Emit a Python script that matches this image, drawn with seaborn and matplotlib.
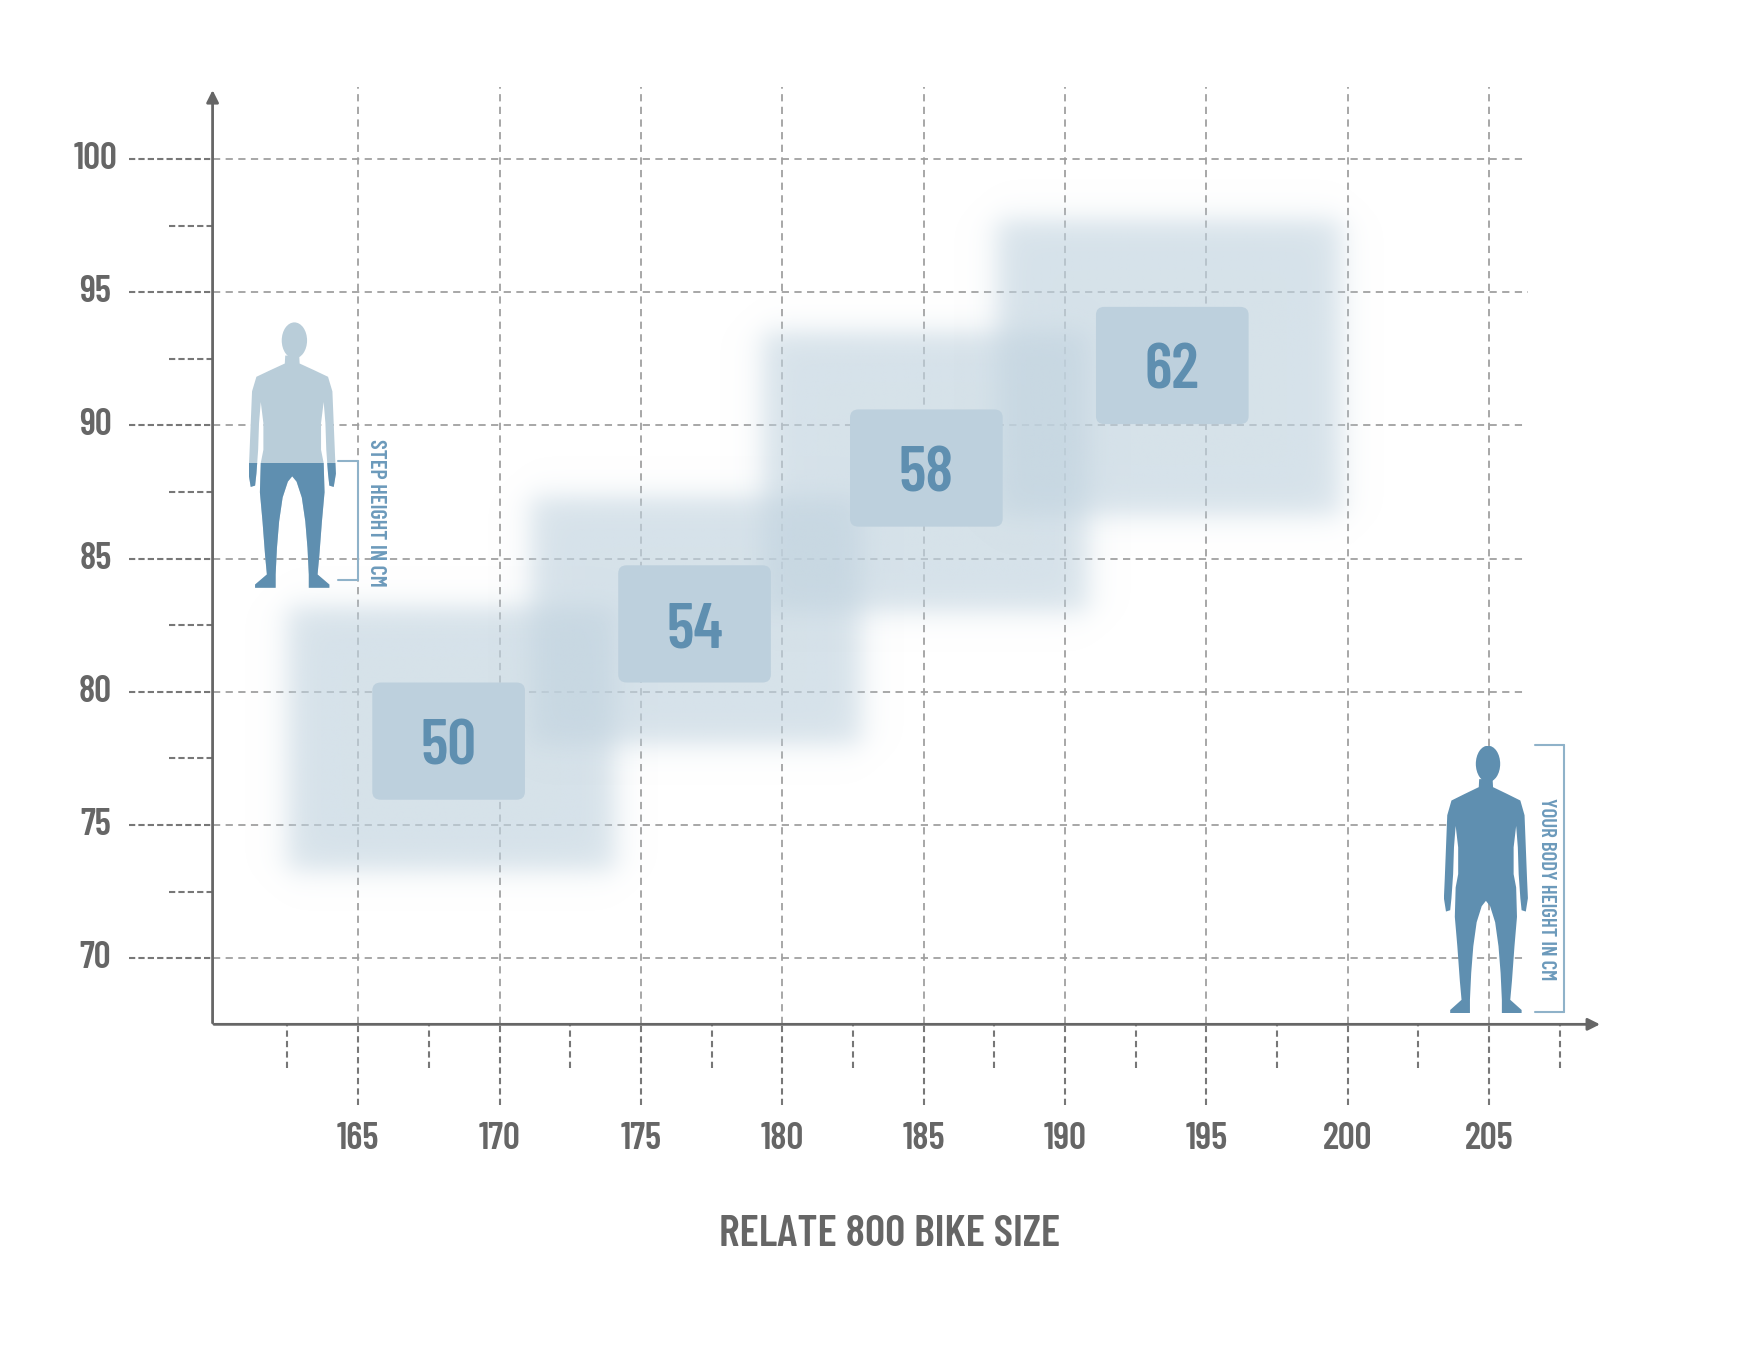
import numpy as np
import matplotlib
matplotlib.use('Agg')
import matplotlib.pyplot as plt
import seaborn as sns
from matplotlib.patches import FancyBboxPatch, Polygon, Ellipse, Rectangle

# Frame sizes: body height (cm) and step height (cm) ranges
sizes = ['50', '54', '58', '62']
body_lo = [162.5, 171.1, 179.3, 187.6]
body_hi = [174.1, 182.8, 190.8, 199.8]
step_lo = [73.3, 78.0, 83.0, 86.6]
step_hi = [83.2, 87.3, 93.5, 97.7]
label_x = [168.2, 176.9, 185.1, 193.8]
label_y = [78.15, 82.55, 88.4, 92.25]

x_ticks = [165, 170, 175, 180, 185, 190, 195, 200, 205]
y_ticks = [70, 75, 80, 85, 90, 95, 100]

sns.set_theme(style='white')
plt.rcParams['font.family'] = ['Barlow Condensed', 'DejaVu Sans']

GREY = '#666666'
GRID = '#a0a0a0'
BOX = (193 / 255, 211 / 255, 223 / 255)
INNER = '#bdd0dd'
BLUE = '#5f8fb0'
LIGHT = '#b9cdd9'
BR = '#8fb2c9'

fig = plt.figure(figsize=(17.54, 13.58), dpi=100)
ax = fig.add_axes([0.1212, 0.2457, 0.7926, 0.690])
X0, X1, Y0, Y1 = 159.85, 209.03, 67.52, 102.69
sns.despine(ax=ax, left=True, bottom=True, top=True, right=True)
ax.set_xticks([])
ax.set_yticks([])

# grid and tick labels
for xv in x_ticks:
    ax.plot([xv, xv], [Y0, Y1], color=GRID, lw=1.3, ls=(0, (4, 3)), zorder=1)
    ax.plot([xv, xv], [64.5, Y0], color='#777777', lw=1.5, ls=(0, (3, 2)),
            zorder=1, clip_on=False)
    ax.text(xv, 63.2, str(xv), ha='center', va='center', fontsize=27,
            fontweight='semibold', color=GREY, clip_on=False)
for xv in np.arange(162.5, 210, 5):
    ax.plot([xv, xv], [65.9, Y0], color='#777777', lw=1.5, ls=(0, (3, 2)),
            zorder=1, clip_on=False)
for yv in y_ticks:
    right = 206.4 if yv == 95 else 206.2
    ax.plot([X0, right], [yv, yv], color=GRID, lw=1.3, ls=(0, (4, 3)), zorder=1)
    ax.plot([156.9, X0], [yv, yv], color='#777777', lw=1.5, ls=(0, (3, 1.5)),
            zorder=1, clip_on=False)
    ax.text(155.7, yv, str(yv), ha='center', va='center', fontsize=27,
            fontweight='semibold', color=GREY, clip_on=False)
for yv in np.arange(72.5, 100, 5):
    ax.plot([158.3, X0], [yv, yv], color='#777777', lw=1.5, ls=(0, (3, 1.5)),
            zorder=1, clip_on=False)

# soft range boxes
s = 0.3
for bl, bh, sl, sh in zip(body_lo, body_hi, step_lo, step_hi):
    xs = np.linspace(bl - 2, bh + 2, 400)
    ys = np.linspace(sl - 2, sh + 2, 400)
    fx = 1 / (1 + np.exp(-(xs - bl) / s)) / (1 + np.exp((xs - bh) / s))
    fy = 1 / (1 + np.exp(-(ys - sl) / s)) / (1 + np.exp((ys - sh) / s))
    img = np.zeros((len(ys), len(xs), 4))
    img[..., 0], img[..., 1], img[..., 2] = BOX
    img[..., 3] = np.outer(fy, fx) * 0.66
    ax.imshow(img, extent=(xs[0], xs[-1], ys[0], ys[-1]), origin='lower',
              interpolation='bilinear', aspect='auto', zorder=2)

# size labels
bw, bh_ = 5.4, 4.4
for lab, cx, cy in zip(sizes, label_x, label_y):
    ax.add_patch(FancyBboxPatch((cx - bw / 2 + 0.25, cy - bh_ / 2 + 0.25),
                                bw - 0.5, bh_ - 0.5,
                                boxstyle='round,pad=0.25,rounding_size=0.3',
                                fc=INNER, ec='none', zorder=3))
    ax.text(cx, cy - 0.25, lab, ha='center', va='center', fontsize=46,
            fontweight='semibold', color=BLUE, zorder=4)

# axes with arrows
ax.annotate('', xy=(X0, Y1), xytext=(X0, Y0 - 0.05),
            arrowprops=dict(arrowstyle='-|>', color=GREY, lw=2,
                            mutation_scale=18), annotation_clip=False)
ax.annotate('', xy=(X1, Y0), xytext=(X0 - 0.05, Y0),
            arrowprops=dict(arrowstyle='-|>', color=GREY, lw=2,
                            mutation_scale=18), annotation_clip=False)

# brackets + notes
ax.plot([165.0, 165.0], [84.2, 88.65], color=BR, lw=1.5, zorder=5)
ax.plot([164.3, 165.0], [88.65, 88.65], color=BR, lw=1.5, zorder=5)
ax.plot([164.3, 165.0], [84.2, 84.2], color=BR, lw=1.5, zorder=5)
ax.text(165.62, 86.7, 'STEP HEIGHT IN CM', rotation=-90, ha='center',
        va='center', fontsize=16, fontweight='semibold', color='#6c9abb',
        zorder=5)
ax.plot([207.65, 207.65], [68.0, 78.0], color=BR, lw=1.5, clip_on=False)
ax.plot([206.62, 207.65], [78.0, 78.0], color=BR, lw=1.5, clip_on=False)
ax.plot([206.62, 207.65], [68.0, 68.0], color=BR, lw=1.5, clip_on=False)
ax.text(207.05, 72.6, 'YOUR BODY HEIGHT IN CM', rotation=-90, ha='center',
        va='center', fontsize=15, fontweight='semibold', color='#6c9abb',
        clip_on=False)

ax.set_xlim(X0, X1)
ax.set_ylim(Y0, Y1)

# silhouettes (decoration)
half = [(0.16, 0.875), (0.17, 0.845), (0.50, 0.82), (0.82, 0.795),
        (0.92, 0.74), (0.95, 0.62), (0.98, 0.50), (1.0, 0.43), (0.95, 0.38),
        (0.85, 0.385), (0.82, 0.43), (0.78, 0.52), (0.76, 0.62), (0.72, 0.70),
        (0.66, 0.62), (0.66, 0.52), (0.72, 0.47), (0.74, 0.36), (0.68, 0.25),
        (0.62, 0.12), (0.58, 0.05), (0.85, 0.012), (0.85, 0.0), (0.38, 0.0),
        (0.38, 0.05), (0.35, 0.15), (0.30, 0.25), (0.22, 0.34), (0.10, 0.40),
        (0.0, 0.42)]
body = half + [(-x, y) for x, y in reversed(half)]


def person(rect, color, legs=None, step=0.47):
    pa = fig.add_axes(rect)
    pa.set_xlim(-1, 1)
    pa.set_ylim(0, 1)
    pa.axis('off')
    pa.add_patch(Polygon(body, closed=True, fc=color, ec='none'))
    pa.add_patch(Ellipse((0.05, 0.932), 0.58, 0.136, fc=color, ec='none'))
    if legs:
        p = Polygon(body, closed=True, fc=legs, ec='none')
        pa.add_patch(p)
        p.set_clip_path(Rectangle((-1, 0), 2, step, transform=pa.transData))


person([0.1417, 0.5672, 0.0498, 0.1954], LIGHT, legs=BLUE)
person([0.8232, 0.2539, 0.0479, 0.197], BLUE)

fig.text(0.507, 0.0907, 'RELATE 800 BIKE SIZE', ha='center', va='center',
         fontsize=32, fontweight='semibold', color=GREY)

fig.savefig('out.png', dpi=100, facecolor='white')
